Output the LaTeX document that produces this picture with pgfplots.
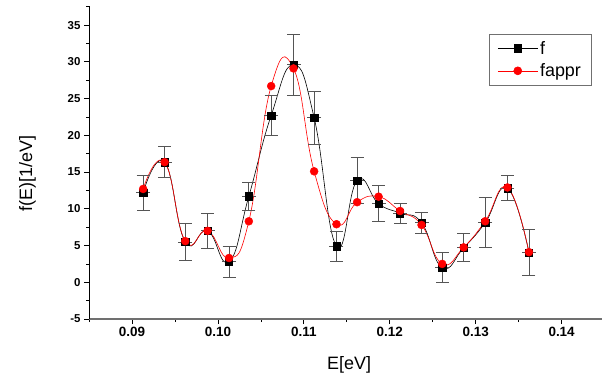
\documentclass[border=0pt]{standalone}
\usepackage{pgfplots}
\pgfplotsset{compat=1.18}
\usepackage{pgfplotstable}
\usepackage{fontspec}
\setmainfont{Liberation Sans}
\definecolor{errgray}{HTML}{555555}
\definecolor{axgray}{HTML}{707070}
\pgfplotstableread{
x f ef fa
0.0913 12.2 2.4 12.7
0.0938 16.35 2.1 16.35
0.0962 5.5 2.45 5.6
0.0988 7.0 2.4 7.0
0.1013 2.8 2.15 3.3
0.1036 11.7 1.85 8.3
0.1062 22.7 2.75 26.7
0.1088 29.6 4.1 29.1
0.1112 22.4 3.6 15.1
0.1138 4.9 2.0 7.9
0.1162 13.85 3.1 10.9
0.1187 10.7 2.45 11.65
0.1212 9.4 1.4 9.7
0.1237 8.1 1.4 7.8
0.1261 2.0 2.05 2.5
0.1286 4.7 1.9 4.75
0.1311 8.1 3.4 8.3
0.1337 12.8 1.7 12.9
0.1362 4.05 3.1 4.1
}\data
\begin{document}
\begin{tikzpicture}
\begin{axis}[
  at={(89bp,56bp)}, anchor=south west,
  scale only axis, width=513bp, height=313bp,
  xmin=0.085, xmax=0.1447, ymin=-5, ymax=37.6,
  axis lines*=left,
  x axis line style={draw=axgray, line width=1.6bp},
  y axis line style={draw=black, line width=0.9bp},
  tick align=outside,
  major tick length=5bp, minor tick length=3bp,
  every tick/.style={black, line width=0.7bp},
  xtick={0.09,0.10,0.11,0.12,0.13,0.14},
  minor xtick={0.085,0.095,0.105,0.115,0.125,0.135,0.145},
  ytick={-5,0,5,10,15,20,25,30,35},
  minor ytick={-2.5,2.5,7.5,12.5,17.5,22.5,27.5,32.5,37.5},
  scaled x ticks=false,
  /pgf/number format/assume math mode=true,
  xticklabel style={font=\fontsize{13.5}{14}\selectfont\bfseries, /pgf/number format/.cd, fixed, fixed zerofill, precision=2},
  yticklabel style={font=\fontsize{11.5}{12}\selectfont\bfseries},
  xlabel={E[eV]}, ylabel={f(E)[1/eV]},
  every axis x label/.style={at={(axis description cs:0.507,-0.147)}, anchor=center, font=\fontsize{18}{20}\selectfont},
  every axis y label/.style={at={(axis description cs:-0.12,0.466)}, rotate=90, anchor=center, font=\fontsize{18}{20}\selectfont},
  legend style={at={(axis description cs:0.979,0.911)}, anchor=north east, draw=axgray, line width=0.6bp, fill=white, font=\fontsize{18}{20}\selectfont, inner xsep=8bp, inner ysep=5bp, row sep=4bp, cells={anchor=west}},
  legend image code/.code={\draw[mark repeat=2,mark phase=2,#1] plot coordinates {(0bp,0bp) (20bp,0bp) (40bp,0bp)};},
  clip=false,
]
\addplot[forget plot, black, line width=0.6bp, smooth, tension=0.8, no marks] table[x=x, y=f] {\data};
\addplot[forget plot, red, line width=0.6bp, smooth, tension=0.8, no marks] table[x=x, y=fa] {\data};
\addplot[forget plot, only marks, mark=-, mark size=7bp, mark options={errgray, line width=0.7bp},
  error bars/.cd, y dir=both, y explicit,
  error bar style={errgray, line width=0.7bp},
  error mark=|, error mark options={errgray, line width=0.7bp, mark size=6.5bp}]
  table[x=x, y=f, y error=ef] {\data};
\addplot[forget plot, only marks, mark=square*, mark size=3.6bp, mark options={black, fill=black}] table[x=x, y=f] {\data};
\addplot[forget plot, only marks, mark=*, mark size=4bp, mark options={draw=red, fill=red}] table[x=x, y=fa] {\data};
\addlegendimage{black, line width=0.6bp, mark=square*, mark size=3.6bp, mark options={fill=black}}
\addlegendentry{f}
\addlegendimage{red, line width=0.6bp, mark=*, mark size=4bp, mark options={fill=red}}
\addlegendentry{fappr}
\end{axis}
\pgfresetboundingbox
\path[use as bounding box] (0,0) rectangle (603bp,375bp);
\end{tikzpicture}
\end{document}
